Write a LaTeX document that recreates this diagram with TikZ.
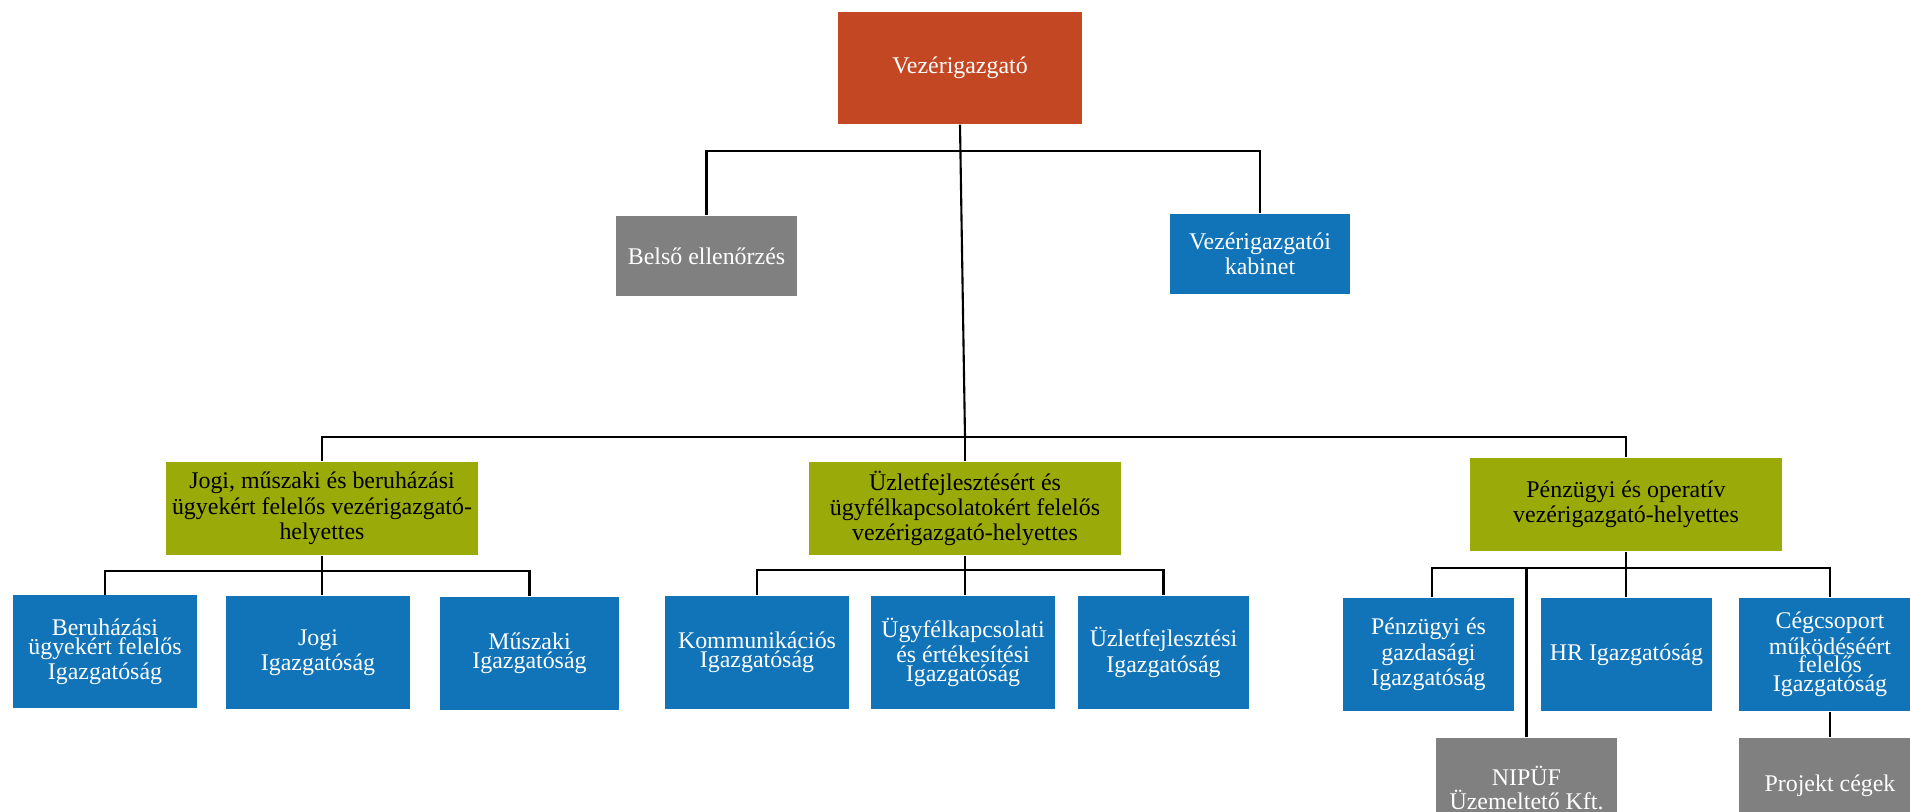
\documentclass[tikz,border=0pt]{standalone}
\usepackage{fontspec}
\setmainfont{Liberation Serif}
\definecolor{ceored}{RGB}{196,71,35}
\definecolor{unitblue}{RGB}{17,116,184}
\definecolor{unitgrey}{RGB}{128,128,128}
\definecolor{deputyolive}{RGB}{154,171,9}
\begin{document}
\begin{tikzpicture}[
  orgbox/.style={rectangle, inner sep=0pt, align=center, text=white,
    font=\fontsize{6.8}{5.3}\selectfont},
  ceobox/.style={orgbox, fill=ceored, minimum width=2.44cm, minimum height=1.12cm},
  greybox/.style={orgbox, fill=unitgrey, minimum width=1.81cm, minimum height=1.12cm},
  bluebox/.style={orgbox, fill=unitblue, minimum width=1.84cm, minimum height=1.13cm},
  deputybox/.style={orgbox, fill=deputyolive, text=black, minimum width=3.12cm, minimum height=0.93cm},
  link/.style={draw=black, line width=0.6pt}
]
\useasboundingbox (0,0) rectangle (19.10,8.12);
\fill[white] (0,0) rectangle (19.10,8.12);
\clip (0,0) rectangle (19.10,8.12);

% top level
\node[ceobox] (ceo) at (9.60,7.44) {Vezérigazgató};
\node[greybox, minimum height=0.80cm] (belso) at (7.065,5.56) {Belső ellenőrzés};
\node[bluebox, minimum width=1.80cm, minimum height=0.80cm] (kabinet) at (12.60,5.58) {Vezérigazgatói\\kabinet};

% deputies
\node[deputybox] (jogdep) at (3.22,3.035) {Jogi, műszaki és beruházási\\ügyekért felelős vezérigazgató-\\helyettes};
\node[deputybox] (uzldep) at (9.65,3.035) {Üzletfejlesztésért és\\ügyfélkapcsolatokért felelős\\vezérigazgató-helyettes};
\node[deputybox] (penzdep) at (16.26,3.075) {Pénzügyi és operatív\\vezérigazgató-helyettes};

% directorates
\node[bluebox] (beru) at (1.05,1.60) {Beruházási\\ügyekért felelős\\Igazgatóság};
\node[bluebox] (jogi) at (3.18,1.595) {Jogi\\Igazgatóság};
\node[bluebox, minimum width=1.79cm] (muszaki) at (5.295,1.585) {Műszaki\\Igazgatóság};
\node[bluebox] (komm) at (7.57,1.595) {Kommunikációs\\Igazgatóság};
\node[bluebox] (ugyfel) at (9.63,1.595) {Ügyfélkapcsolati\\és értékesítési\\Igazgatóság};
\node[bluebox, minimum width=1.71cm] (uzletf) at (11.635,1.595) {Üzletfejlesztési\\Igazgatóság};
\node[bluebox, minimum width=1.71cm] (penz) at (14.285,1.575) {Pénzügyi és\\gazdasági\\Igazgatóság};
\node[bluebox, minimum width=1.71cm] (hr) at (16.265,1.575) {HR Igazgatóság};
\node[bluebox, minimum width=1.82cm] (cegcs) at (18.30,1.575) {Cégcsoport\\működéséért\\felelős\\Igazgatóság};

% companies
\node[greybox, minimum height=1.00cm] (nipuf) at (15.265,0.24) {NIPÜF\\Üzemeltető Kft.};
\node[greybox, minimum width=1.82cm, minimum height=0.96cm] (projekt) at (18.30,0.26) {Projekt cégek};

% buses
\coordinate (topbus) at (9.60,6.61);
\coordinate (mainbus) at (9.65,3.75);
\coordinate (jogbus) at (3.22,2.41);
\coordinate (uzlbus) at (9.65,2.42);
\coordinate (penzbus) at (16.26,2.44);

\draw[link] (belso.north) |- (topbus) -| (kabinet.north);
\draw[link] (ceo.south) -- (mainbus);
\draw[link] (jogdep.north) |- (mainbus) -| (penzdep.north);
\draw[link] (mainbus) -- (uzldep.north);

\draw[link] (beru.north) |- (jogbus) -| (muszaki.north);
\draw[link] (jogdep.south) -- (jogdep.south |- jogi.north);
\draw[link] (komm.north) |- (uzlbus) -| (uzletf.north);
\draw[link] (uzldep.south) -- (uzldep.south |- ugyfel.north);
\draw[link] ([xshift=0.035cm]penz.north) |- (penzbus) -| (cegcs.north);
\draw[link] (penzdep.south) -- (penzdep.south |- hr.north);
\draw[link] (nipuf.north) -- (nipuf.north |- penzbus);
\draw[link] (cegcs.south) -- (projekt.north);
\end{tikzpicture}
\end{document}
